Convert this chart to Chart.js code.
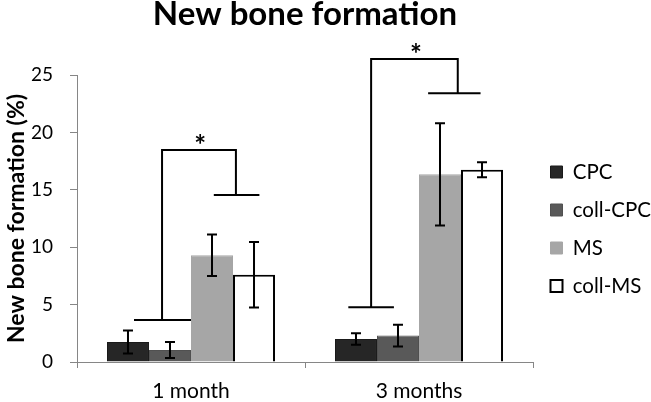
<!DOCTYPE html>
<html>
<head>
<meta charset="utf-8">
<script src="https://cdn.jsdelivr.net/npm/chart.js@4.4.0/dist/chart.umd.min.js"></script>
<style>
html, body { margin: 0; padding: 0; background: #fff; }
</style>
</head>
<body>
<canvas id="boneChart" width="651" height="402"></canvas>
<script>
var categories = ['1 month', '3 months'];
var seriesNames = ['CPC', 'coll-CPC', 'MS', 'coll-MS'];
var cpcValues = [1.75, 2.0];
var cpcErrors = [1.0, 0.5];
var collCpcValues = [1.05, 2.3];
var collCpcErrors = [0.7, 0.95];
var msValues = [9.3, 16.35];
var msErrors = [1.8, 4.45];
var collMsValues = [7.6, 16.75];
var collMsErrors = [2.85, 0.65];
var yTicks = [0, 5, 10, 15, 20, 25];

var fuente = 'Lato';

// barras de error (media +/- desviacion)
var errorBarPlugin = {
    id: 'errorBars',
    afterDatasetsDraw: function (chart) {
        var ctx = chart.ctx;
        var y = chart.scales.y;
        ctx.save();
        ctx.strokeStyle = '#000';
        ctx.lineWidth = 2;
        chart.data.datasets.forEach(function (ds, i) {
            chart.getDatasetMeta(i).data.forEach(function (bar, j) {
                var top = y.getPixelForValue(ds.data[j] + ds.errors[j]);
                var bot = y.getPixelForValue(ds.data[j] - ds.errors[j]);
                ctx.beginPath();
                ctx.moveTo(bar.x, top); ctx.lineTo(bar.x, bot);
                ctx.moveTo(bar.x - 5, top); ctx.lineTo(bar.x + 5, top);
                ctx.moveTo(bar.x - 5, bot); ctx.lineTo(bar.x + 5, bot);
                ctx.stroke();
            });
        });
        ctx.restore();
    }
};

// llaves de significancia; x en fraccion del ancho de categoria
var bracketPlugin = {
    id: 'brackets',
    afterDraw: function (chart, args, opts) {
        var ctx = chart.ctx;
        var xs = chart.scales.x, ys = chart.scales.y;
        var w = xs.width / categories.length;
        ctx.save();
        ctx.strokeStyle = '#000';
        ctx.lineWidth = 2;
        opts.items.forEach(function (b) {
            var c = xs.getPixelForValue(b.category);
            var px = function (f) { return c + f * w; };
            ctx.beginPath();
            ctx.moveTo(px(b.left[0]), ys.getPixelForValue(b.low));
            ctx.lineTo(px(b.left[1]), ys.getPixelForValue(b.low));
            ctx.moveTo(px(b.leftStem), ys.getPixelForValue(b.low));
            ctx.lineTo(px(b.leftStem), ys.getPixelForValue(b.top));
            ctx.lineTo(px(b.rightStem), ys.getPixelForValue(b.top));
            ctx.lineTo(px(b.rightStem), ys.getPixelForValue(b.high));
            ctx.moveTo(px(b.right[0]), ys.getPixelForValue(b.high));
            ctx.lineTo(px(b.right[1]), ys.getPixelForValue(b.high));
            ctx.stroke();
            ctx.fillStyle = '#000';
            ctx.font = 'bold 28px ' + fuente;
            ctx.textAlign = 'center';
            ctx.textBaseline = 'middle';
            ctx.fillText('*', px(b.star), ys.getPixelForValue(b.top) - 4);
        });
        ctx.restore();
    }
};

var ctxBone = document.getElementById('boneChart').getContext('2d');
var chartBone = new Chart(ctxBone, {
    type: 'bar',
    data: {
        labels: categories,
        datasets: [{
            label: seriesNames[0],
            data: cpcValues,
            errors: cpcErrors,
            backgroundColor: '#262626',
            borderColor: '#1a1a1a',
            borderWidth: 1
        }, {
            label: seriesNames[1],
            data: collCpcValues,
            errors: collCpcErrors,
            backgroundColor: '#595959',
            borderColor: '#505050',
            borderWidth: 1
        }, {
            label: seriesNames[2],
            data: msValues,
            errors: msErrors,
            backgroundColor: '#a6a6a6',
            borderColor: '#a6a6a6',
            borderWidth: 1
        }, {
            label: seriesNames[3],
            data: collMsValues,
            errors: collMsErrors,
            backgroundColor: '#ffffff',
            borderColor: '#000000',
            borderWidth: 2
        }]
    },
    options: {
        responsive: false,
        animation: false,
        categoryPercentage: 0.737,
        barPercentage: 1.0,
        layout: { padding: 0 },
        scales: {
            y: {
                min: 0,
                max: 25,
                afterBuildTicks: function (s) { s.ticks = yTicks.map(function (v) { return { value: v }; }); },
                afterFit: function (s) { s.width = 77; },
                grid: { drawOnChartArea: false, tickLength: 7, color: '#868686' },
                border: { color: '#868686' },
                ticks: { padding: 17, color: '#000', font: { family: fuente, size: 19 } },
                title: {
                    display: true,
                    text: 'New bone formation (%)',
                    color: '#000',
                    padding: { top: 3, bottom: 0 },
                    font: { family: fuente, size: 23, weight: 'bold' }
                }
            },
            x: {
                afterFit: function (s) { s.height = 40; },
                grid: { drawOnChartArea: false, offset: true, tickLength: 6, color: '#868686' },
                border: { color: '#868686' },
                ticks: { padding: 11, color: '#000', font: { family: fuente, size: 21 } }
            }
        },
        plugins: {
            title: {
                display: true,
                fullSize: false,
                text: 'New bone formation',
                color: '#000',
                padding: { top: 0, bottom: 45.3 },
                font: { family: fuente, size: 33, weight: 'bold', lineHeight: 0.9 }
            },
            legend: {
                position: 'right',
                fullSize: false,
                maxWidth: 118,
                title: { display: true, text: '', padding: 0, font: { size: 17.5 } },
                labels: {
                    boxWidth: 12,
                    boxHeight: 12,
                    padding: 17.5,
                    color: '#000',
                    font: { family: fuente, size: 20.5 }
                }
            },
            tooltip: { enabled: false },
            brackets: {
                items: [
                    { category: 0, low: 3.66, top: 18.47, high: 14.55, left: [-0.25, 0.0], leftStem: -0.127, rightStem: 0.197, right: [0.10, 0.30], star: 0.04 },
                    { category: 1, low: 4.76, top: 26.4, high: 23.4, left: [-0.31, -0.11], leftStem: -0.21, rightStem: 0.17, right: [0.04, 0.27], star: -0.013 }
                ]
            }
        }
    },
    plugins: [errorBarPlugin, bracketPlugin]
});
</script>
</body>
</html>
